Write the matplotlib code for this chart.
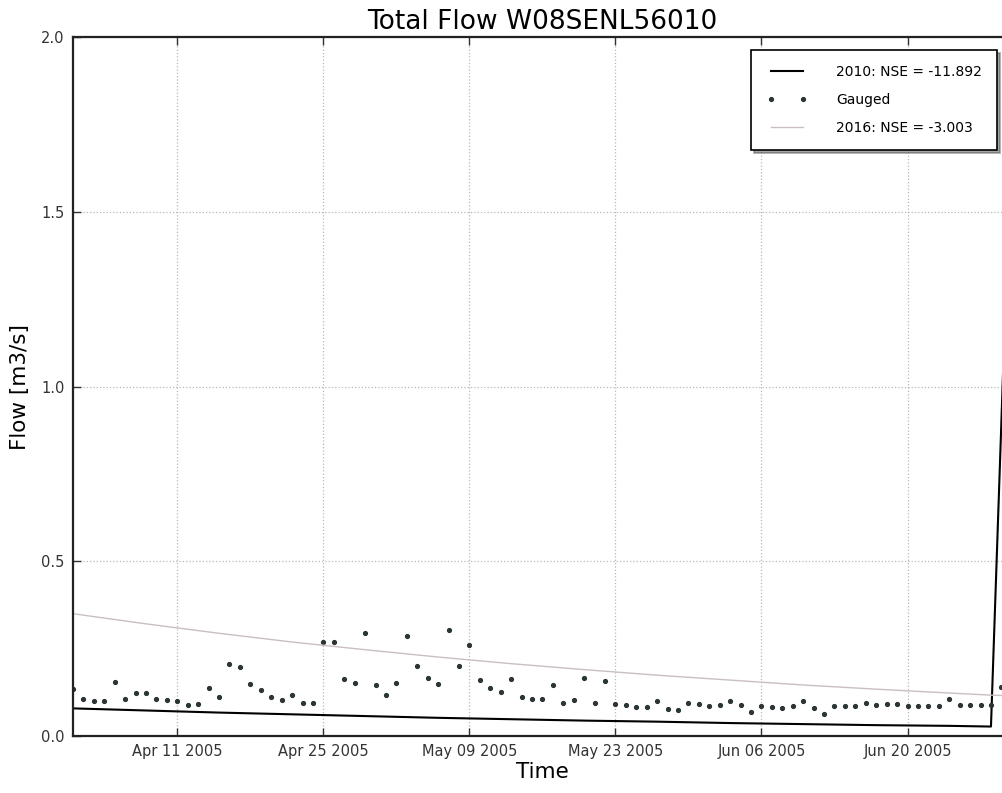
import matplotlib
matplotlib.use("Agg")
import matplotlib.pyplot as plt
import matplotlib.dates as mdates
import numpy as np
import pandas as pd

# gauged daily flow, 1 Apr - 29 Jun 2005
gauged_start = "2005-04-01"
gauged = [
    0.134, 0.105, 0.099, 0.099, 0.155, 0.105, 0.124, 0.122, 0.105, 0.102,
    0.099, 0.090, 0.091, 0.137, 0.113, 0.207, 0.197, 0.148, 0.131, 0.113,
    0.103, 0.118, 0.093, 0.095, 0.268, 0.268, 0.163, 0.153, 0.296, 0.146,
    0.117, 0.153, 0.287, 0.201, 0.165, 0.148, 0.303, 0.200, 0.260, 0.160,
    0.136, 0.125, 0.163, 0.113, 0.105, 0.105, 0.145, 0.095, 0.103, 0.166,
    0.095, 0.158, 0.092, 0.090, 0.084, 0.083, 0.100, 0.077, 0.074, 0.094,
    0.092, 0.087, 0.088, 0.100, 0.088, 0.070, 0.086, 0.084, 0.081, 0.086,
    0.099, 0.081, 0.064, 0.086, 0.086, 0.087, 0.095, 0.088, 0.091, 0.091,
    0.087, 0.085, 0.086, 0.087, 0.105, 0.090, 0.090, 0.090, 0.090, 0.140,
]

# modelled series, read at roughly weekly points
model_dates = ["2005-04-01", "2005-04-08", "2005-04-15", "2005-04-22", "2005-04-29",
               "2005-05-06", "2005-05-13", "2005-05-20", "2005-05-27", "2005-06-03",
               "2005-06-10", "2005-06-17", "2005-06-24", "2005-06-28", "2005-06-29",
               "2005-06-30"]
flow_2010 = [0.079, 0.073, 0.067, 0.062, 0.057, 0.052, 0.048, 0.044, 0.041, 0.037,
             0.034, 0.031, 0.029, 0.027, 0.90, 1.8]
flow_2016 = [0.350, 0.321, 0.294, 0.269, 0.247, 0.226, 0.207, 0.190, 0.174, 0.160,
             0.146, 0.134, 0.123, 0.117, 0.116, 0.115]

tick_dates = ["2005-04-11", "2005-04-25", "2005-05-09",
              "2005-05-23", "2005-06-06", "2005-06-20"]

label_2010 = "2010: NSE = -11.892"
label_2016 = "2016: NSE = -3.003"

gauged_dates = pd.date_range(gauged_start, periods=len(gauged), freq="D")
mdt = pd.to_datetime(model_dates)

fig = plt.figure(figsize=(10.03, 7.93), dpi=100)
ax = fig.add_axes([0.0728, 0.0719, 0.936, 0.881])

ax.plot(mdt, flow_2010, color="black", lw=1.5, label=label_2010)
ax.plot(gauged_dates, gauged, ".", color="#2b3535", ms=5.5, label="Gauged")
ax.plot(mdt, flow_2016, color="#c9bfc2", lw=1.0, label=label_2016)

ax.set_xlim(pd.Timestamp("2005-04-01"), pd.Timestamp("2005-06-30"))
ax.set_ylim(0, 2.0)
ax.set_yticks(np.arange(0, 2.01, 0.5))
ax.set_xticks(pd.to_datetime(tick_dates))
ax.xaxis.set_major_formatter(mdates.DateFormatter("%b %d %Y"))

ax.tick_params(direction="in", top=True, right=True, length=6, width=1,
               labelsize=10.5, colors="#333333", pad=6)
ax.grid(True, color="#b8b8b8", linestyle=":", linewidth=0.9)
for s in ax.spines.values():
    s.set_linewidth(1.6)
    s.set_color("#222222")

ax.set_title("Total Flow W08SENL56010", fontsize=19, pad=6)
ax.set_xlabel("Time", fontsize=15.5, labelpad=2)
ax.set_ylabel("Flow [m3/s]", fontsize=15.5, labelpad=8)

leg = ax.legend(loc="upper right", bbox_to_anchor=(997 / 1003, 1 - 50 / 793),
                bbox_transform=fig.transFigure, borderaxespad=0, fontsize=10,
                numpoints=2, shadow=True, fancybox=False, framealpha=1,
                handlelength=2.9, handletextpad=2.1, labelspacing=1.0,
                borderpad=1.1, edgecolor="black")
leg.get_frame().set_linewidth(1.2)

fig.savefig("out.png", dpi=100)
